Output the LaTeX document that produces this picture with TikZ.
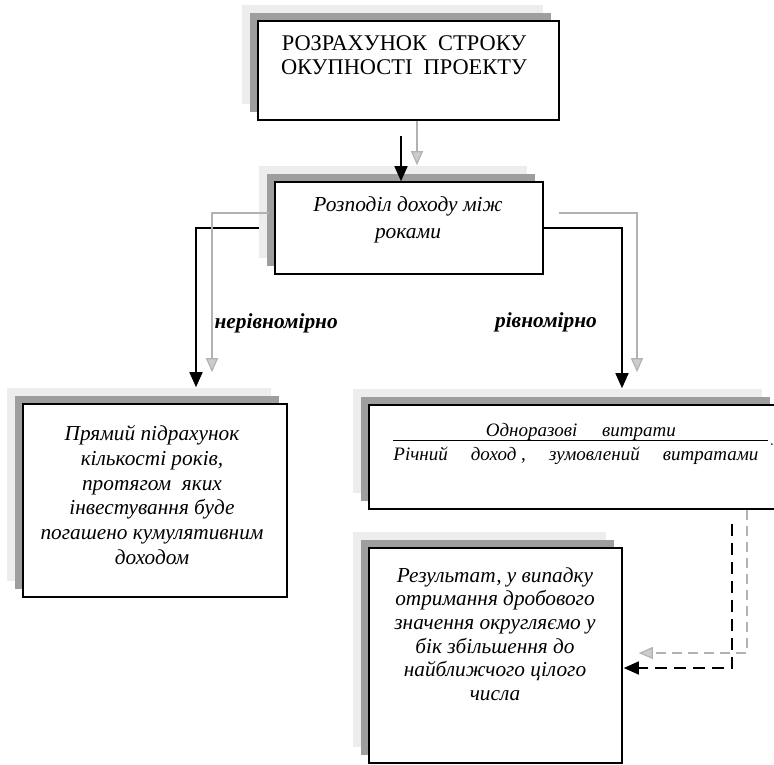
\documentclass[tikz,border=0pt]{standalone}
\usepackage{fontspec}
\setmainfont{Liberation Serif}
\usetikzlibrary{arrows.meta,shadows}

\begin{document}
\begin{tikzpicture}[x=1pt, y=-1pt,
    box/.style={draw, line width=1.6pt, fill=white, inner sep=0pt,
      copy shadow={shadow xshift=-16pt, shadow yshift=16pt, fill=black!7, draw=none},
      copy shadow={shadow xshift=-8pt, shadow yshift=8pt, fill=black!38, draw=none}},
    txt/.style={font=\fontsize{21.3}{24.8}\selectfont\itshape, align=center},
    main/.style={line width=1.6pt, -{Triangle[width=13pt,length=15pt]}},
    ghost/.style={line width=1.2pt, draw=black!30, -{Triangle[width=12pt,length=14pt,fill=black!20]}}]

    \path[use as bounding box] (0,0) rectangle (774,765);
    \clip (0,0) rectangle (774,765);

    \node[box, minimum width=301pt, minimum height=99pt] (top) at (408.5,70.5) {};
    \node[box, minimum width=268pt, minimum height=92pt] (share) at (409,228) {};
    \node[box, minimum width=264pt, minimum height=193pt] (direct) at (155,500.5) {};
    \node[box, minimum width=409pt, minimum height=104pt] (formula) at (573.5,457) {};
    \node[box, minimum width=253pt, minimum height=215pt] (result) at (495.5,655.5) {};

    \node[txt, font=\fontsize{22.4}{24}\selectfont] (topText) at (404,55) {РОЗРАХУНОК\ \ СТРОКУ\\ОКУПНОСТІ\ \ ПРОЕКТУ};
    \node[txt, font=\fontsize{21.4}{27}\selectfont\itshape] (shareText) at (408,220) {Розподіл доходу між\\роками};
    \node[txt] (directText) at (152,495) {Прямий підрахунок\\кількості років,\\протягом\ \ яких\\інвестування буде\\погашено кумулятивним\\доходом};
    \node[txt, font=\fontsize{21.3}{23.6}\selectfont\itshape] (resultText) at (495,634) {Результат, у випадку\\отримання дробового\\значення округляємо у\\бік збільшення до\\найближчого цілого\\числа};
    \node[anchor=base west, inner sep=0pt, font=\fontsize{19}{23}\selectfont] (ratio) at (392,445)
      {$\displaystyle\frac{\mbox{\raisebox{-3pt}[\height][0pt]{\makebox[190pt][s]{\itshape Одноразові\hfill витрати}}}}{\makebox[375pt][l]{\raisebox{-4pt}{\makebox[365pt][s]{\itshape Річний\hfill доход ,\hfill зумовлений\hfill витратами}}}}.$};

    \node[anchor=west, font=\fontsize{21.4}{24}\selectfont\bfseries\itshape] (uneven) at (211,323) {нерівномірно};
    \node[font=\fontsize{21.4}{24}\selectfont\bfseries\itshape] (even) at (546,322) {рівномірно};

    \draw[main] ([xshift=-7.5pt,yshift=-15pt]top.south) to ([xshift=-8pt]share.north);
    \draw[ghost] ([xshift=8.5pt]top.south) to ([xshift=8pt,yshift=16pt]share.north);
    \draw[main] ([xshift=-15pt]share.west) -| ([xshift=41pt,yshift=16pt]direct.north);
    \draw[ghost] ([xshift=-5pt,yshift=15pt]share.west) -| ([xshift=57pt,yshift=31pt]direct.north);
    \draw[main] (share.east) -| ([xshift=48.5pt,yshift=16pt]formula.north);
    \draw[ghost] ([xshift=15pt,yshift=15pt]share.east) -| ([xshift=63.5pt,yshift=32pt]formula.north);
    \draw[main, dash pattern=on 12pt off 7pt] ([xshift=158.5pt,yshift=-14pt]formula.south) |- ([xshift=1pt,yshift=-12.5pt]result.east);
    \draw[ghost, dash pattern=on 10pt off 6pt] ([xshift=173.5pt]formula.south) |- ([xshift=16pt,yshift=2.5pt]result.east);

  \end{tikzpicture}
\end{document}
